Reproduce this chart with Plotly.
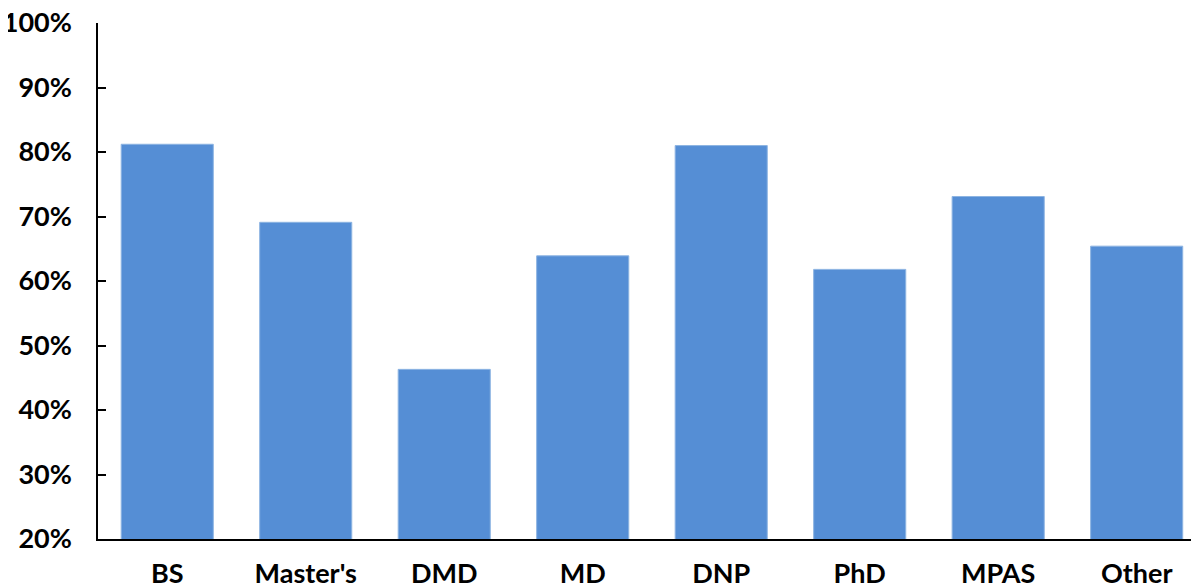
import plotly.graph_objects as go

categories = ["BS", "Master's", "DMD", "MD", "DNP", "PhD", "MPAS", "Other"]
values = [0.812, 0.691, 0.463, 0.639, 0.810, 0.618, 0.731, 0.654]
y_ticks = [0.2, 0.3, 0.4, 0.5, 0.6, 0.7, 0.8, 0.9, 1.0]

fig = go.Figure(go.Bar(
    x=categories, y=values, width=0.665,
    marker=dict(color="#558ED5", line=dict(color="#8DB4E2", width=1)),
))

font = dict(family="Lato", size=27, color="#000000", weight="bold")
fig.update_layout(
    width=1191, height=578,
    margin=dict(l=90, r=0, t=15, b=47),
    plot_bgcolor="white", paper_bgcolor="white",
    showlegend=False, font=font,
    xaxis=dict(range=[-0.5, 7.45], showline=True, linecolor="black", linewidth=1.5,
               ticks="", showgrid=False, tickfont=font, ticklabelstandoff=10,
               automargin=False, ticklabeloverflow="allow"),
    yaxis=dict(range=[0.2, 1.0], tickvals=y_ticks, tickformat=".0%", showline=True,
               linecolor="black", linewidth=1.5, ticks="inside", ticklen=8,
               tickcolor="black", tickwidth=1.5, showgrid=False, zeroline=False,
               tickfont=font, ticklabelstandoff=19, automargin=False,
               ticklabeloverflow="allow"),
)
fig.write_html("out.html")
